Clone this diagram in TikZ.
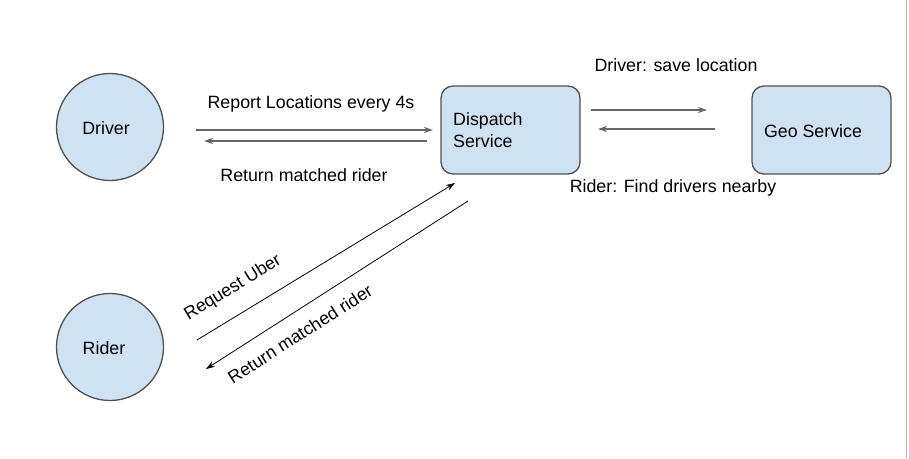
\documentclass[tikz,border=0pt]{standalone}
\usepackage{fontspec}
\setmainfont{Liberation Sans}
\usetikzlibrary{arrows.meta}
\definecolor{nodefill}{HTML}{CFE2F3}
\definecolor{nodedraw}{HTML}{505050}
\definecolor{grayline}{HTML}{666666}
\begin{document}
\begin{tikzpicture}[x=1pt,y=-1pt,
  every node/.style={font=\fontsize{17.8}{21.5}\selectfont, inner sep=0pt},
  actor/.style={circle, draw=nodedraw, line width=1.3pt, fill=nodefill, minimum size=107pt},
  svc/.style={rectangle, rounded corners=12pt, draw=nodedraw, line width=1.3pt, fill=nodefill, minimum width=139pt, minimum height=88pt},
  harrow/.style={draw=grayline, line width=1.6pt, -{Stealth[length=9pt,width=6pt]}},
  darrow/.style={draw=black, line width=0.8pt, -{Stealth[length=9pt,width=6pt]}},
  lbl/.style={text=black}]
\useasboundingbox (0,0) rectangle (909,458);
\draw[color=black!30, line width=1pt] (906,0) -- (906,458);

\node[actor] (driver) at (110,127) {};
\node at (106,128) {Driver};
\node[actor] (rider) at (110,347) {};
\node at (104,348) {Rider};
\node[svc] (dispatch) at (510.5,130) {};
\node[anchor=west, align=left] at (453,130) {Dispatch\\Service};
\node[svc] (geo) at (821.5,130) {};
\node at (813,131) {Geo Service};

% driver <-> dispatch
\coordinate (rl1) at (196,130);
\coordinate (rl2) at (433,130);
\coordinate (rm1) at (427,141);
\coordinate (rm2) at (204,141);
\draw[harrow] (rl1) -- (rl2);
\draw[harrow] (rm1) -- (rm2);
\node[lbl] (lreport) at (311,104) {Report Locations every 4s};
\node[lbl] (lreturn) at (304,175) {Return matched rider};

% dispatch <-> geo
\coordinate (g1) at (591,110);
\coordinate (g2) at (707,110);
\coordinate (g3) at (715,129);
\coordinate (g4) at (598,129);
\draw[harrow] (g1) -- (g2);
\draw[harrow] (g3) -- (g4);
\node[lbl] (lsave) at (676,65) {Driver: save location};
\node[lbl] (lfind) at (673,188) {Rider: Find drivers nearby};

% rider <-> dispatch
\coordinate (u1) at (197,340);
\coordinate (u2) at (455,183);
\coordinate (r1) at (468,201);
\coordinate (r2) at (206,369);
\draw[darrow] (u1) -- (u2);
\draw[darrow] (r1) -- (r2);
\node[lbl, rotate=31.5] (luber) at (233,288) {Request Uber};
\node[lbl, rotate=32.5] (lrmr) at (300,334) {Return matched rider};
\end{tikzpicture}
\end{document}
